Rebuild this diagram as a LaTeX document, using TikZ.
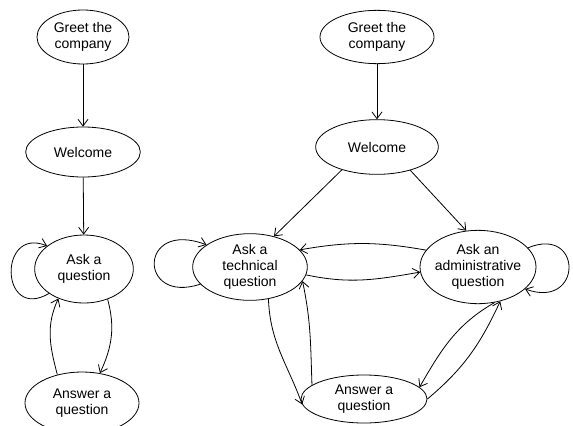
\documentclass[tikz,border=0pt]{standalone}
\usepackage{fontspec}
\setmainfont{Liberation Sans}
\usetikzlibrary{shapes.geometric,arrows.meta}

\begin{document}
\begin{tikzpicture}[
    x=0.75pt, y=-0.75pt,
    state/.style={
        ellipse,
        draw,
        line width=0.6pt,
        inner sep=0pt
    },
    lbl/.style={
        align=center,
        font=\fontsize{10.5}{12}\selectfont
    },
    arr/.style={
        line width=0.6pt,
        -{Straight Barb[length=5pt,width=7.5pt]}
    }
]
\useasboundingbox (0,0) rectangle (573,425);

% left graph
\node[state, minimum width=69pt, minimum height=40.5pt, label={[lbl]center:Greet the\\company}] (greetL) at (83,37) {};
\node[state, minimum width=86pt, minimum height=37.5pt, label={[lbl]center:Welcome}] (welcomeL) at (83,152) {};
\node[state, minimum width=74pt, minimum height=51pt, label={[lbl]center:Ask a\\question}] (askL) at (84,269) {};
\node[state, minimum width=85.5pt, minimum height=46.5pt, label={[lbl]center:Answer a\\question}] (answerL) at (82,403) {};

\draw[arr] (greetL) -- (welcomeL);
\draw[arr] (welcomeL) -- (askL);
\draw[arr] (askL.215) .. controls (0,322) and (-2,226) .. (askL.148);
\draw[arr] (askL.-52) to[out=-75,in=65] (answerL.59);
\draw[arr] (answerL.131) to[out=105,in=245] (askL.229);

% right graph
\node[state, minimum width=85.5pt, minimum height=40pt, label={[lbl]center:Greet the\\company}] (greetR) at (377,37) {};
\node[state, minimum width=92pt, minimum height=41pt, label={[lbl]center:Welcome}] (welcomeR) at (377,147) {};
\node[state, minimum width=86pt, minimum height=50pt, label={[lbl]center:Ask a\\technical\\question}] (techQ) at (250,267) {};
\node[state, minimum width=87pt, minimum height=55pt, label={[lbl]center:Ask an\\administrative\\question}] (adminQ) at (478,267) {};
\node[state, minimum width=94.5pt, minimum height=36pt, label={[lbl]center:Answer a\\question}] (answerR) at (364,399) {};

\draw[arr] (greetR) -- (welcomeR);
\draw[arr] (welcomeR.213) -- (techQ.52);
\draw[arr] (welcomeR.-35) -- (adminQ.108);
\draw[arr] (adminQ.162) to[out=170,in=10] (techQ.19);
\draw[arr] (techQ.-8) to[out=-12,in=190] (adminQ.185);
\draw[arr] (techQ.199) .. controls (138,305) and (138,219) .. (techQ.153);
\draw[arr] (adminQ.21) .. controls (583,225) and (583,310) .. (adminQ.-25);
\draw[arr] (techQ.-60) to[out=-88,in=110] (answerR.185);
\draw[arr] (answerR.165) to[out=92,in=-78] (techQ.-15);
\draw[arr] (adminQ.-65) to[out=210,in=60] (answerR.12);
\draw[arr] (answerR.0) to[out=40,in=245] (adminQ.-57);

\end{tikzpicture}
\end{document}
